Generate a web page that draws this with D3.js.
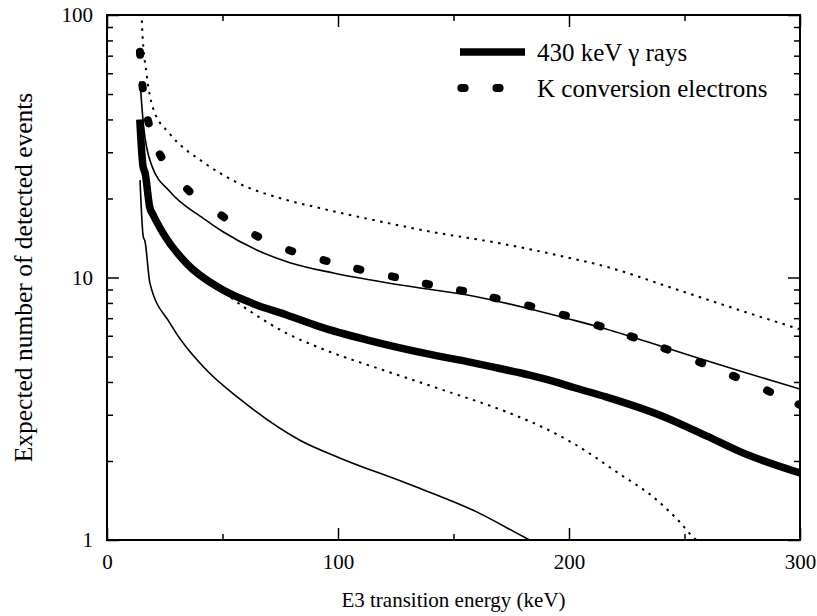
<!DOCTYPE html>
<html>
<head>
<meta charset="utf-8">
<title>E3 transition</title>
<script src="https://cdn.jsdelivr.net/npm/d3@7"></script>
<style>
  html, body { margin: 0; padding: 0; background: #fff; }
  svg { display: block; font-family: "Liberation Serif", "Times New Roman", serif; }
  .axis text { font-size: 21px; fill: #000; font-family: "Liberation Serif", "Times New Roman", serif; }
  .axis line { stroke: #000; stroke-width: 1.5px; }
  .axis .domain { display: none; }
</style>
</head>
<body>
<div id="main"></div>
<script>
// energies (keV) and expected counts
var gammaE = [14.2, 15.6, 16.5, 18.5, 20, 24.4, 34.5, 48.9, 63.3, 77.8, 92, 112, 141, 156, 170, 183, 193, 202, 216, 241, 260, 274, 300];
var gammaN = [40, 26.5, 25, 18.5, 17.3, 14.7, 11.3, 9.1, 7.95, 7.2, 6.5, 5.8, 5.07, 4.78, 4.5, 4.25, 4.03, 3.81, 3.51, 2.95, 2.48, 2.17, 1.8];

var upperE = [14.3, 15.8, 19.3, 27.3, 41.7, 50.4, 64.8, 79.5, 98, 127, 156, 185, 200, 216, 245, 274, 300];
var upperN = [56, 38, 26.8, 21.2, 16.8, 14.9, 12.73, 11.36, 10.4, 9.36, 8.58, 7.52, 6.95, 6.37, 5.29, 4.4, 3.76];

var lowerE = [14.3, 15.7, 16.4, 18.6, 27.3, 41.7, 57.6, 83.5, 101, 130, 160, 183, 186];
var lowerN = [23.5, 14.3, 13.8, 9.5, 6.69, 4.57, 3.44, 2.4, 2.05, 1.64, 1.28, 1.0, 0.97];

var dotUpE = [14.8, 15.2, 17.2, 20, 27.3, 41.7, 56.1, 77.8, 92, 112, 141, 170, 196, 216, 245, 274, 300];
var dotUpN = [110, 90, 59, 44, 35.2, 27.5, 23.05, 19.73, 18.4, 16.8, 14.9, 13.5, 12.1, 11.0, 9.1, 7.5, 6.35];

var dotLoE = [34.5, 48.9, 63.3, 77.8, 92.2, 119.5, 144.2, 173.2, 187.4, 201.7, 222.1, 236.4, 247.2, 254.5, 259];
var dotLoN = [11.3, 9.0, 7.3, 6.13, 5.39, 4.44, 3.76, 3.07, 2.72, 2.34, 1.78, 1.46, 1.19, 1.01, 0.95];

var convE = [14.3, 15.4, 17.9, 23.2, 35.2, 50.1, 64.8, 79.5, 94.4, 109, 124, 138.7, 153.5, 168, 183, 198, 213, 227.4, 242, 257, 271.6, 286.4, 300];
var convN = [71.5, 53.3, 39.2, 29.1, 21.5, 17.1, 14.4, 12.65, 11.6, 10.75, 10.07, 9.44, 8.91, 8.35, 7.79, 7.18, 6.54, 5.94, 5.34, 4.74, 4.2, 3.69, 3.27];

var xMajor = [0, 100, 200, 300];
var xMinor = [50, 150, 250];
var yMajor = [1, 10, 100];
var yMinor = [2, 3, 4, 5, 6, 7, 8, 9, 20, 30, 40, 50, 60, 70, 80, 90];

var legendLabels = ["430 keV \u03b3 rays", "K conversion electrons"];

var width = 817, height = 616;
var plotLeft = 107, plotTop = 15, plotRight = 800, plotBottom = 540;

function zip(a, b) { return a.map(function(v, i) { return [v, b[i]]; }); }

function main() {
    var svg = d3.select("#main").append("svg")
        .attr("width", width)
        .attr("height", height);

    var x = d3.scaleLinear().domain([0, 300]).range([plotLeft, plotRight]);
    var y = d3.scaleLog().domain([1, 100]).range([plotBottom, plotTop]);

    svg.append("clipPath").attr("id", "plotclip")
      .append("rect")
        .attr("x", plotLeft).attr("y", plotTop)
        .attr("width", plotRight - plotLeft).attr("height", plotBottom - plotTop);

    var line = d3.line()
        .x(function(d) { return x(d[0]); })
        .y(function(d) { return y(d[1]); })
        .curve(d3.curveMonotoneX);

    var g = svg.append("g").attr("clip-path", "url(#plotclip)");

    function curve(data, w, dash) {
        var p = g.append("path")
            .datum(data)
            .attr("d", line)
            .attr("fill", "none")
            .attr("stroke", "#000")
            .attr("stroke-width", w);
        if (dash) p.attr("stroke-dasharray", dash).attr("stroke-linecap", "butt");
        else p.attr("stroke-linejoin", "round");
    }

    curve(zip(dotUpE, dotUpN), 2, "2.5,5.5");
    curve(zip(dotLoE, dotLoN), 2, "2.5,5.5");
    curve(zip(upperE, upperN), 1.6);
    curve(zip(lowerE, lowerN), 1.6);
    curve(zip(gammaE, gammaN), 7.5);

    // conversion electron dots, each a short round-capped stroke along the curve
    var pts = zip(convE, convN).map(function(d) { return [x(d[0]), y(d[1])]; });
    g.selectAll(".kdot")
        .data(pts)
      .enter().append("line")
        .attr("class", "kdot")
        .each(function(d, i) {
            var a = pts[Math.max(i - 1, 0)], b = pts[Math.min(i + 1, pts.length - 1)];
            var ang = Math.atan2(b[1] - a[1], b[0] - a[0]);
            var h = 1.6;
            d3.select(this)
                .attr("x1", d[0] - h * Math.cos(ang)).attr("y1", d[1] - h * Math.sin(ang))
                .attr("x2", d[0] + h * Math.cos(ang)).attr("y2", d[1] + h * Math.sin(ang));
        })
        .attr("stroke", "#000")
        .attr("stroke-width", 8)
        .attr("stroke-linecap", "round");

    // axes: ticks point inward on all four sides
    function addAxis(axis, cls, tr) {
        svg.append("g").attr("class", "axis " + cls)
            .attr("transform", tr)
            .call(axis);
    }
    addAxis(d3.axisBottom(x).tickValues(xMajor).tickSize(-12).tickSizeOuter(0).tickPadding(14), "xb", "translate(0," + plotBottom + ")");
    addAxis(d3.axisBottom(x).tickValues(xMinor).tickSize(-6).tickSizeOuter(0).tickFormat(""), "xb2", "translate(0," + plotBottom + ")");
    addAxis(d3.axisTop(x).tickValues(xMajor).tickSize(-12).tickSizeOuter(0).tickFormat(""), "xt", "translate(0," + plotTop + ")");
    addAxis(d3.axisTop(x).tickValues(xMinor).tickSize(-6).tickSizeOuter(0).tickFormat(""), "xt2", "translate(0," + plotTop + ")");
    addAxis(d3.axisLeft(y).tickValues(yMajor).tickSize(-12).tickSizeOuter(0).tickPadding(14).tickFormat(d3.format("d")), "yl", "translate(" + plotLeft + ",0)");
    addAxis(d3.axisLeft(y).tickValues(yMinor).tickSize(-6).tickSizeOuter(0).tickFormat(""), "yl2", "translate(" + plotLeft + ",0)");
    addAxis(d3.axisRight(y).tickValues(yMajor).tickSize(-12).tickSizeOuter(0).tickFormat(""), "yr", "translate(" + plotRight + ",0)");
    addAxis(d3.axisRight(y).tickValues(yMinor).tickSize(-6).tickSizeOuter(0).tickFormat(""), "yr2", "translate(" + plotRight + ",0)");

    svg.append("rect")
        .attr("x", plotLeft).attr("y", plotTop)
        .attr("width", plotRight - plotLeft).attr("height", plotBottom - plotTop)
        .attr("fill", "none")
        .attr("stroke", "#000")
        .attr("stroke-width", 2);

    // axis titles
    svg.append("text")
        .attr("x", (plotLeft + plotRight) / 2)
        .attr("y", 607)
        .attr("text-anchor", "middle")
        .style("font-size", "21px")
        .text("E3 transition energy (keV)");

    svg.append("text")
        .attr("transform", "translate(32," + ((plotTop + plotBottom) / 2) + ") rotate(-90)")
        .attr("text-anchor", "middle")
        .style("font-size", "25.5px")
        .text("Expected number of detected events");

    // legend
    var lg = svg.append("g");
    lg.append("line")
        .attr("x1", 460).attr("x2", 525)
        .attr("y1", 52).attr("y2", 52)
        .attr("stroke", "#000").attr("stroke-width", 7.5);
    lg.selectAll(".ldot")
        .data([463, 498])
      .enter().append("line")
        .attr("x1", function(d) { return d - 1.6; })
        .attr("x2", function(d) { return d + 1.6; })
        .attr("y1", 88).attr("y2", 88)
        .attr("stroke", "#000").attr("stroke-width", 8)
        .attr("stroke-linecap", "round");
    lg.selectAll("text")
        .data(legendLabels)
      .enter().append("text")
        .attr("x", 537)
        .attr("y", function(d, i) { return i === 0 ? 52 : 88; })
        .attr("dy", "0.35em")
        .style("font-size", "25px")
        .text(function(d) { return d; });
}

main();
</script>
</body>
</html>
